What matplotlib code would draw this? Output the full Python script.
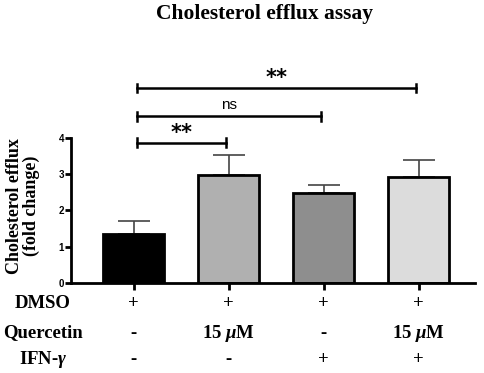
import numpy as np
import matplotlib.pyplot as plt

# data
groups = ['DMSO', 'Q', 'IFN', 'Q+IFN']
means = [1.35, 2.97, 2.49, 2.93]
errs = [0.37, 0.57, 0.22, 0.47]
colors = ['#000000', '#b0b0b0', '#8e8e8e', '#dcdcdc']

row_names = ['DMSO', 'Quercetin', 'IFN-$\\gamma$']
row_dmso = ['+', '+', '+', '+']
row_quer = ['-', '15 $\\mu$M', '-', '15 $\\mu$M']
row_ifn = ['-', '-', '+', '+']

# significance brackets: (left bar, right bar, height, label)
sig = [(0, 1, 3.87, '**'), (0, 2, 4.6, 'ns'), (0, 3, 5.38, '**')]

serif = 'Liberation Serif'
sans = 'Liberation Sans'
plt.rcParams['mathtext.fontset'] = 'custom'
plt.rcParams['mathtext.it'] = 'Liberation Serif:italic:bold'
plt.rcParams['mathtext.rm'] = 'Liberation Serif:bold'

fig = plt.figure(figsize=(4.84, 3.73), dpi=100)
ax = fig.add_axes([0.1467, 0.2413, 0.834, 0.564])

x = np.arange(len(groups))
ax.bar(x, means, width=0.64, color=colors, edgecolor='black', linewidth=2, zorder=2)
ax.errorbar(x, means, yerr=[np.zeros(len(errs)), errs], fmt='none',
            ecolor='#444444', elinewidth=1.2, capsize=11.5, capthick=1.2, zorder=1)

ax.set_xlim(-0.66, 3.59)
ax.set_ylim(0, 5.8)
ax.spines['top'].set_visible(False)
ax.spines['right'].set_visible(False)
ax.spines['left'].set_bounds(0, 4)
ax.spines['left'].set_linewidth(2)
ax.spines['bottom'].set_linewidth(2)
ax.set_yticks([0, 1, 2, 3, 4])
ax.set_yticklabels(['0', '1', '2', '3', '4'], fontfamily=sans, fontweight='bold', fontsize=7)
ax.tick_params(axis='y', length=4, width=2, pad=1)
ax.set_xticks(x)
ax.set_xticklabels([])
ax.tick_params(axis='x', length=5, width=2)

ax.set_ylabel('Cholesterol efflux\n(fold change)', fontfamily=serif, fontweight='bold',
              fontsize=13, linespacing=1.0)
ax.yaxis.set_label_coords(-0.077, 0.366)

for a, b, h, lab in sig:
    x0, x1 = a + 0.03, b - 0.03
    ax.plot([x0, x1], [h, h], color='black', lw=1.8, clip_on=False)
    for xx in (x0, x1):
        ax.plot([xx, xx], [h - 0.12, h + 0.12], color='black', lw=1.8, clip_on=False)
    if lab == 'ns':
        ax.text((x0 + x1) / 2, h + 0.12, lab, ha='center', va='bottom', fontsize=11,
                fontfamily=sans)
    else:
        ax.text((x0 + x1) / 2, h + 0.0, lab, ha='center', va='bottom', fontsize=15,
                fontweight='bold', fontfamily='DejaVu Sans')

# condition table below the axis
row_y = [303, 333, 360]
for name, vals, yp in zip(row_names, [row_dmso, row_quer, row_ifn], row_y):
    yf = 1 - yp / 373
    fig.text(43 / 484, yf, name, ha='center', va='center', fontfamily=serif,
             fontweight='bold', fontsize=13.5)
    for xi, v in zip(x, vals):
        xd = ax.transData.transform((xi, 0))[0] / fig.bbox.width
        fig.text(xd, yf, v, ha='center', va='center', fontfamily=serif,
                 fontweight='bold', fontsize=13.5)

fig.text(265 / 484, 1 - 14 / 373, 'Cholesterol efflux assay', ha='center', va='center',
         fontfamily=serif, fontweight='bold', fontsize=15.5)

fig.savefig('out.png', dpi=100)
